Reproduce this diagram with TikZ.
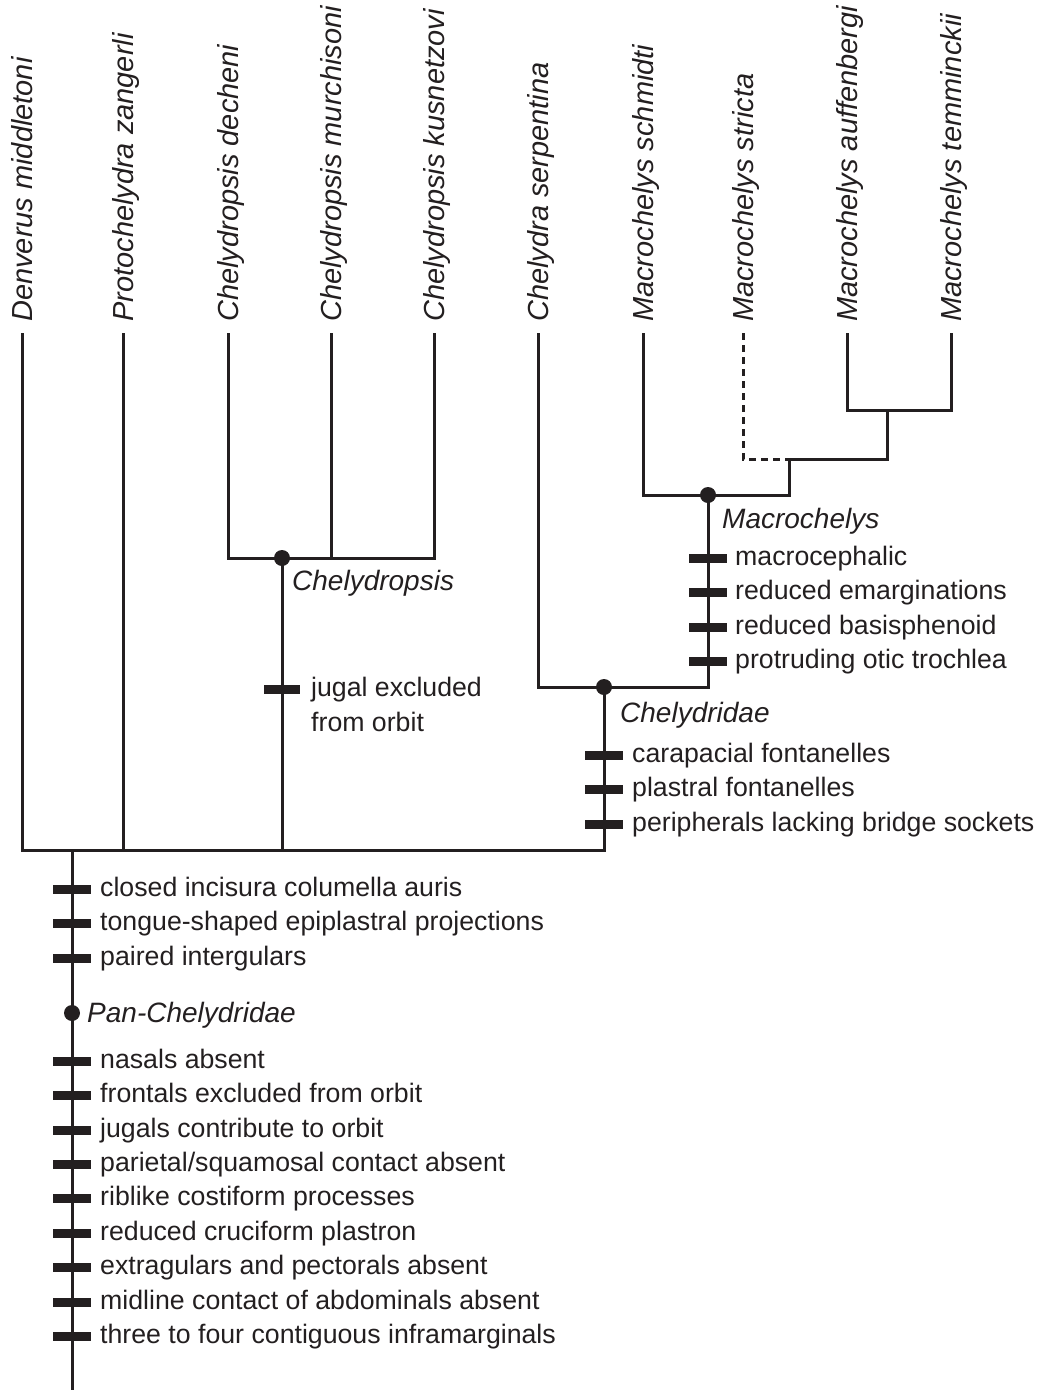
\documentclass[tikz,border=0pt]{standalone}
\usepackage{fontspec}
\setmainfont{Liberation Sans}
\definecolor{ink}{HTML}{231F20}
\begin{document}
\begin{tikzpicture}[x=1pt,y=-1pt,
  branch/.style={draw=ink,line width=3pt,line join=miter},
  dashbranch/.style={branch,dash pattern=on 7pt off 5pt},
  dotnode/.style={circle,fill=ink,inner sep=0pt,minimum size=16pt},
  tiplabel/.style={rotate=90,anchor=base west,inner sep=0pt,text=ink,
    font=\fontsize{29}{29}\selectfont\itshape},
  cladelabel/.style={anchor=base west,inner sep=0pt,text=ink,
    font=\fontsize{28}{28}\selectfont\itshape},
  charlabel/.style={anchor=base west,inner sep=0pt,text=ink,
    font=\fontsize{26.7}{32}\selectfont},
  charbar/.style={draw=ink,line width=9pt}
]
\useasboundingbox (0,0) rectangle (1039,1390);

% tip top coordinates
\coordinate (tD)   at (22,333);
\coordinate (tP)   at (123,333);
\coordinate (tCd)  at (228,333);
\coordinate (tCm)  at (331,333);
\coordinate (tCk)  at (434,333);
\coordinate (tCs)  at (538,333);
\coordinate (tMs)  at (643,333);
\coordinate (tMst) at (743,333);
\coordinate (tMa)  at (847,333);
\coordinate (tMt)  at (951,333);

% internal vertices
\coordinate (root)  at (72,850);
\coordinate (rootR) at (604,850);
\coordinate (base)  at (72,1390);
\coordinate (cChelydropsis) at (282,558);
\coordinate (cChelydridae)  at (604,687);
\coordinate (cMacro)        at (708,495);
\coordinate (cM1)           at (789,459);
\coordinate (cM2)           at (887,410);
\coordinate (cPan)          at (72,1013);

% tip labels
\node[tiplabel] (lD)   at ([xshift=10pt,yshift=11pt]tD)   {Denverus middletoni};
\node[tiplabel] (lP)   at ([xshift=10pt,yshift=11pt]tP)   {Protochelydra zangerli};
\node[tiplabel] (lCd)  at ([xshift=10pt,yshift=11pt]tCd)  {Chelydropsis decheni};
\node[tiplabel] (lCm)  at ([xshift=10pt,yshift=11pt]tCm)  {Chelydropsis murchisoni};
\node[tiplabel] (lCk)  at ([xshift=10pt,yshift=11pt]tCk)  {Chelydropsis kusnetzovi};
\node[tiplabel] (lCs)  at ([xshift=10pt,yshift=11pt]tCs)  {Chelydra serpentina};
\node[tiplabel] (lMs)  at ([xshift=10pt,yshift=11pt]tMs)  {Macrochelys schmidti};
\node[tiplabel] (lMst) at ([xshift=10pt,yshift=11pt]tMst) {Macrochelys stricta};
\node[tiplabel] (lMa)  at ([xshift=10pt,yshift=11pt]tMa)  {Macrochelys auffenbergi};
\node[tiplabel] (lMt)  at ([xshift=10pt,yshift=11pt]tMt)  {Macrochelys temminckii};

% branches
\draw[branch] (tD) |- (rootR) -- (cChelydridae);
\draw[branch] (tP) -- (tP |- root);
\draw[branch] (cChelydropsis) -- (cChelydropsis |- root);
\draw[branch] (root) -- (base);
\draw[branch] (tCd) |- (cChelydropsis) -| (tCk);
\draw[branch] (tCm) -- (tCm |- cChelydropsis);
\draw[branch] (tCs) |- (cChelydridae) -| (cMacro);
\draw[branch] (tMs) |- (cMacro) -| (cM1);
\draw[dashbranch] (tMst) |- (cM1);
\draw[branch] (cM1) -| (cM2);
\draw[branch] (tMa) |- (cM2) -| (tMt);

% dots
\node[dotnode] (dChelydropsis) at (cChelydropsis) {};
\node[dotnode] (dChelydridae)  at (cChelydridae) {};
\node[dotnode] (dMacro)        at (cMacro) {};
\node[dotnode] (dPan)          at (cPan) {};

% clade labels
\node[cladelabel] (nChelydropsis) at (292,590)  {Chelydropsis};
\node[cladelabel] (nMacro)        at (722,528)  {Macrochelys};
\node[cladelabel] (nChelydridae)  at (620,722)  {Chelydridae};
\node[cladelabel] (nPan)          at (87,1022)  {Pan-Chelydridae};

% character bars
\foreach \y in {558,592,627,661} \draw[charbar] (689,\y) -- (727,\y);
\foreach \y in {755,789,824} \draw[charbar] (585,\y) -- (623,\y);
\draw[charbar] (264,689) -- (300,689);
\foreach \y in {889,923,958,1061,1095,1130,1164,1198,1233,1267,1302,1336}
  \draw[charbar] (53,\y) -- (91,\y);

% character labels
\node[charlabel] (m1) at (735,565) {macrocephalic};
\node[charlabel] (m2) at (735,599) {reduced emarginations};
\node[charlabel] (m3) at (735,634) {reduced basisphenoid};
\node[charlabel] (m4) at (735,668) {protruding otic trochlea};

\node[charlabel] (c1) at (632,762) {carapacial fontanelles};
\node[charlabel] (c2) at (632,796) {plastral fontanelles};
\node[charlabel] (c3) at (632,831) {peripherals lacking bridge sockets};

\node[charlabel] (j1) at (311,696) {\vtop{\baselineskip=35pt\hbox{jugal excluded}\hbox{from orbit}}};

\node[charlabel] (p1) at (100,896) {closed incisura columella auris};
\node[charlabel] (p2) at (100,930) {tongue-shaped epiplastral projections};
\node[charlabel] (p3) at (100,965) {paired intergulars};

\node[charlabel] (q1) at (100,1068) {nasals absent};
\node[charlabel] (q2) at (100,1102) {frontals excluded from orbit};
\node[charlabel] (q3) at (100,1137) {jugals contribute to orbit};
\node[charlabel] (q4) at (100,1171) {parietal/squamosal contact absent};
\node[charlabel] (q5) at (100,1205) {riblike costiform processes};
\node[charlabel] (q6) at (100,1240) {reduced cruciform plastron};
\node[charlabel] (q7) at (100,1274) {extragulars and pectorals absent};
\node[charlabel] (q8) at (100,1309) {midline contact of abdominals absent};
\node[charlabel] (q9) at (100,1343) {three to four contiguous inframarginals};
\end{tikzpicture}
\end{document}
